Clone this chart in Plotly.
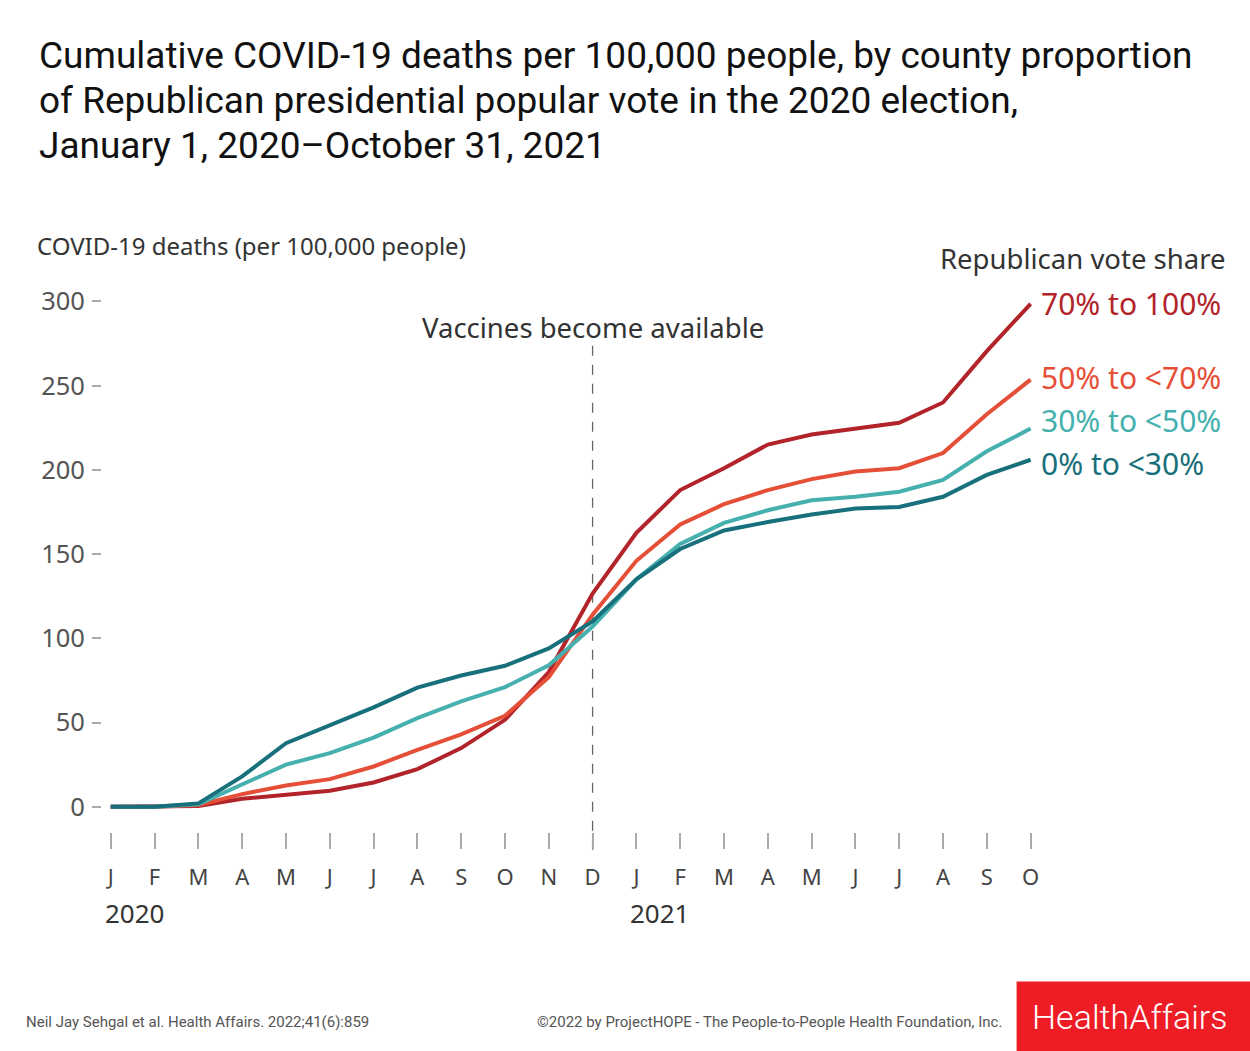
import plotly.graph_objects as go

months = ["J", "F", "M", "A", "M", "J", "J", "A", "S", "O", "N", "D",
          "J", "F", "M", "A", "M", "J", "J", "A", "S", "O"]
years = ["2020", "2021"]
series_names = ["70% to 100%", "50% to <70%", "30% to <50%", "0% to <30%"]
series_colors = ["#B2242A", "#E54F38", "#45B0AE", "#17707B"]

r70_100 = [0, 0, 0.5, 4.7, 7.1, 9.5, 14.4, 22.3, 34.8, 51.6, 80, 126.6,
           162.6, 188, 201, 215, 221, 224.5, 228, 240, 270.5, 298.6]
r50_70 = [0, 0, 1, 7.5, 12.6, 16.4, 23.9, 33.8, 43, 54, 77, 114,
          146, 167.6, 179.6, 188, 194.5, 199, 201, 210, 233, 253.6]
r30_50 = [0, 0, 1.5, 13.4, 25, 31.8, 41, 52.6, 62.5, 71, 84, 107,
          135, 156, 168.5, 176, 182, 184, 187, 194, 211, 224.5]
r0_30 = [0, 0, 2, 18, 37.7, 48.6, 59, 70.7, 77.9, 83.7, 94, 110,
         135, 153, 164, 169, 173.5, 177, 178, 184, 197, 206]
series_values = [r70_100, r50_70, r30_50, r0_30]

y_ticks = [0, 50, 100, 150, 200, 250, 300]

title_lines = ["Cumulative COVID-19 deaths per 100,000 people, by county proportion",
               "of Republican presidential popular vote in the 2020 election,",
               "January 1, 2020\u2013October 31, 2021"]

W, H = 1250, 1051
L, R, T, B = 102.2, 1035.4, 292.6, 832.3

def px(x):
    return (x - L) / (R - L)

def py(y):
    return (B - y) / (B - T)

x_idx = list(range(len(months)))
fig = go.Figure()
for name, color, vals in zip(series_names, series_colors, series_values):
    fig.add_trace(go.Scatter(x=x_idx, y=vals, mode="lines", name=name,
                             line=dict(color=color, width=4), showlegend=False,
                             hoverinfo="skip"))

label_font = "Noto Sans"
annotations = []
for line, ly in zip(title_lines, [55, 100, 145]):
    annotations.append(dict(x=px(37), y=py(ly), xref="paper", yref="paper", text=line,
                            showarrow=False, xanchor="left", yanchor="middle",
                            font=dict(family="Roboto", size=37, color="#111111")))
label_y = [303, 377, 420, 463]
for name, color, ly in zip(series_names, series_colors, label_y):
    annotations.append(dict(x=px(1039), y=py(ly), xref="paper", yref="paper",
                            text=name, showarrow=False, xanchor="left", yanchor="middle",
                            font=dict(family=label_font, size=30, color=color)))
annotations.append(dict(x=px(1228), y=py(258), xref="paper", yref="paper",
                        text="Republican vote share", showarrow=False, xanchor="right",
                        yanchor="middle", font=dict(family=label_font, size=27.5, color="#333333")))
annotations.append(dict(x=11, y=py(327), xref="x", yref="paper",
                        text="Vaccines become available", showarrow=False, xanchor="center",
                        yanchor="middle", font=dict(family=label_font, size=27.5, color="#333333")))
annotations.append(dict(x=px(35), y=py(245), xref="paper", yref="paper",
                        text="COVID-19 deaths (per 100,000 people)", showarrow=False,
                        xanchor="left", yanchor="middle",
                        font=dict(family=label_font, size=24, color="#333333")))
for yr, xi in zip(years, [0, 12]):
    annotations.append(dict(x=xi, y=py(913), xref="x", yref="paper", text=yr,
                            showarrow=False, xanchor="left", xshift=-8, yanchor="middle",
                            font=dict(family=label_font, size=26, color="#333333")))
annotations.append(dict(x=px(24), y=py(1023), xref="paper", yref="paper",
                        text="Neil Jay Sehgal et al. Health Affairs. 2022;41(6):859",
                        showarrow=False, xanchor="left", yanchor="middle",
                        font=dict(family="Roboto", size=15, color="#555555")))
annotations.append(dict(x=px(1004), y=py(1023), xref="paper", yref="paper",
                        text="©2022 by ProjectHOPE - The People-to-People Health Foundation, Inc.",
                        showarrow=False, xanchor="right", yanchor="middle",
                        font=dict(family="Roboto", size=15, color="#555555")))
annotations.append(dict(x=px(1130), y=py(1018), xref="paper", yref="paper",
                        text="HealthAffairs", showarrow=False, xanchor="center", yanchor="middle",
                        font=dict(family="Roboto", size=34, color="white", weight=300)))

shapes = [
    dict(type="line", xref="x", yref="paper", x0=11, x1=11, y0=py(850), y1=py(345),
         line=dict(color="#666666", width=1.3, dash="10px,9px"), layer="below"),
    dict(type="rect", xref="paper", yref="paper", x0=px(1017), x1=px(1252),
         y0=py(982), y1=py(1053), fillcolor="#EE1C25", line=dict(width=0), layer="below"),
]

fig.update_layout(
    width=W, height=H,
    margin=dict(l=L, r=W - R, t=T, b=H - B, pad=0),
    paper_bgcolor="white", plot_bgcolor="white",
    xaxis=dict(range=[-0.2, 21.1], tickvals=x_idx, ticktext=months, showgrid=False,
               zeroline=False, showline=False, ticks="outside", ticklen=16,
               tickcolor="#AAAAAA", tickwidth=1.5,
               tickfont=dict(family=label_font, size=22, color="#444444"),
               ticklabelstandoff=10),
    yaxis=dict(range=[-15, 305], tickvals=y_ticks, showgrid=False, zeroline=False,
               showline=False, ticks="outside", ticklen=9, tickcolor="#AAAAAA",
               tickwidth=1.5, tickfont=dict(family=label_font, size=25.5, color="#555555"),
               ticklabelstandoff=2),
    annotations=annotations, shapes=shapes,
)

fig.write_html("out.html", config={"displayModeBar": False},
               post_script="document.body.style.margin='0px';")
